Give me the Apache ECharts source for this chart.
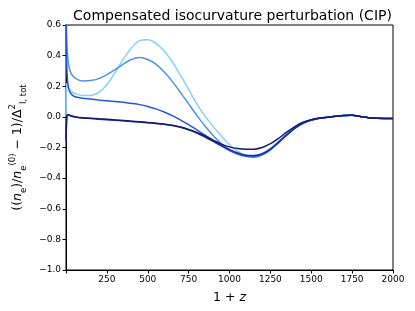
<!DOCTYPE html>
<html>
<head>
<meta charset="utf-8">
<script src="https://cdn.jsdelivr.net/npm/echarts@6/dist/echarts.min.js"></script>
<style>html,body{margin:0;padding:0;background:#fff}#c{width:415px;height:311px}</style>
</head>
<body>
<div id="c"></div>
<script>
const xs = [1, 3, 6, 10, 15, 25, 40, 60, 100, 150, 200, 250, 300, 350, 400, 450, 500, 550, 600, 650, 700, 750, 800, 850, 900, 950, 1000, 1050, 1100, 1150, 1200, 1250, 1300, 1350, 1400, 1450, 1500, 1550, 1600, 1650, 1700, 1750, 1800, 1850, 1900, 1950, 2000];
const lightVals = [0.0, 0.22, 0.21, 0.2, 0.19, 0.175, 0.16, 0.15, 0.14, 0.14, 0.16, 0.21, 0.29, 0.375, 0.45, 0.498, 0.503, 0.48, 0.43, 0.36, 0.272, 0.18, 0.085, 0.005, -0.062, -0.125, -0.182, -0.226, -0.25, -0.255, -0.24, -0.205, -0.16, -0.11, -0.068, -0.038, -0.02, -0.009, -0.002, 0.004, 0.009, 0.011, 0.003, -0.005, -0.009, -0.01, -0.01];
const mediumVals = [0.65, 0.55, 0.46, 0.4, 0.35, 0.30, 0.27, 0.25, 0.235, 0.237, 0.25, 0.276, 0.308, 0.345, 0.375, 0.387, 0.375, 0.345, 0.295, 0.232, 0.16, 0.085, 0.01, -0.06, -0.122, -0.175, -0.213, -0.24, -0.255, -0.26, -0.245, -0.21, -0.165, -0.115, -0.072, -0.04, -0.021, -0.009, -0.002, 0.004, 0.009, 0.011, 0.003, -0.005, -0.009, -0.01, -0.01];
const royalVals = [0.65, 0.42, 0.3, 0.23, 0.19, 0.16, 0.14, 0.13, 0.122, 0.116, 0.11, 0.105, 0.1, 0.095, 0.088, 0.08, 0.068, 0.052, 0.032, 0.008, -0.02, -0.05, -0.085, -0.12, -0.155, -0.19, -0.22, -0.243, -0.258, -0.262, -0.248, -0.215, -0.17, -0.12, -0.075, -0.042, -0.022, -0.009, -0.002, 0.004, 0.009, 0.011, 0.003, -0.005, -0.009, -0.01, -0.01];
const darkVals = [-0.16, -0.04, 0.005, 0.012, 0.013, 0.008, 0.002, -0.002, -0.007, -0.011, -0.015, -0.018, -0.022, -0.026, -0.03, -0.034, -0.038, -0.043, -0.049, -0.057, -0.068, -0.085, -0.106, -0.132, -0.16, -0.188, -0.214, -0.236, -0.25, -0.252, -0.24, -0.21, -0.165, -0.118, -0.074, -0.041, -0.021, -0.009, -0.002, 0.004, 0.009, 0.011, 0.003, -0.005, -0.009, -0.01, -0.01];
const darkestVals = [-0.15, -0.03, 0.008, 0.014, 0.015, 0.01, 0.004, 0.0, -0.005, -0.009, -0.013, -0.016, -0.02, -0.024, -0.028, -0.032, -0.036, -0.041, -0.047, -0.055, -0.066, -0.082, -0.102, -0.125, -0.152, -0.178, -0.196, -0.207, -0.212, -0.211, -0.2, -0.175, -0.14, -0.1, -0.063, -0.035, -0.018, -0.008, -0.002, 0.004, 0.009, 0.011, 0.003, -0.005, -0.009, -0.01, -0.01];
const xTicks = [250, 500, 750, 1000, 1250, 1500, 1750, 2000];
const yTicks = [-1.0, -0.8, -0.6, -0.4, -0.2, 0.0, 0.2, 0.4, 0.6];

const colors = ['#87cefa', '#4d93ea', '#2555dc', '#1e2fa5', '#151b6c'];
const seriesVals = [lightVals, mediumVals, royalVals, darkVals, darkestVals];
const font = 'DejaVu Sans';

const chart = echarts.init(document.getElementById('c'), null, {renderer: 'canvas'});
const fmtY = v => {
  const r = Math.round(v * 10) / 10;
  if (!yTicks.some(t => Math.abs(t - r) < 1e-9)) return '';
  return (Math.abs(r) < 1e-9 ? 0 : r).toFixed(1).replace('-', '\u2212');
};
chart.setOption({
  animation: false,
  backgroundColor: '#fff',
  title: {
    text: 'Compensated isocurvature perturbation (CIP)',
    left: 227.5, top: 4, textAlign: 'center',
    textStyle: {fontFamily: font, fontSize: 14, fontWeight: 'normal', color: '#000'}
  },
  grid: {left: 62, right: 22, top: 25, bottom: 41, show: true, borderColor: '#000', borderWidth: 1, backgroundColor: 'transparent'},
  xAxis: {
    type: 'value', min: 0, max: 2000, interval: 250,
    name: '{n|1 + }{i|z}', nameLocation: 'middle', nameGap: 21,
    nameTextStyle: {rich: {n: {fontFamily: font, fontSize: 12.5, color: '#000'}, i: {fontFamily: font, fontSize: 12.5, fontStyle: 'italic', color: '#000'}}},
    axisLine: {show: true, onZero: false, lineStyle: {color: '#000', width: 1}},
    axisTick: {show: true, inside: false, length: 3.5, lineStyle: {color: '#000'}},
    axisLabel: {fontFamily: font, fontSize: 9, color: '#000', margin: 5,
      formatter: v => xTicks.includes(v) ? String(v) : ''},
    splitLine: {show: false}
  },
  yAxis: {
    type: 'value', min: -1.0, max: 0.6, interval: 0.2,
    name: '{t|((}{i|n}{s|e}{t|)/}{i|n}{s|e}{p|(0)}{t| \u2212 1)/\u0394}{p|2}{s|I, tot}',
    nameLocation: 'middle', nameGap: 38, nameRotate: 90,
    nameTextStyle: {rich: {
      t: {fontFamily: font, fontSize: 12.5, color: '#000', lineHeight: 20},
      i: {fontFamily: font, fontSize: 12.5, fontStyle: 'italic', color: '#000', lineHeight: 20},
      s: {fontFamily: font, fontSize: 8.5, color: '#000', verticalAlign: 'bottom', lineHeight: 20},
      p: {fontFamily: font, fontSize: 8.5, color: '#000', verticalAlign: 'top', lineHeight: 20}
    }},
    axisLine: {show: true, onZero: false, lineStyle: {color: '#000', width: 1}},
    axisTick: {show: true, inside: false, length: 3.5, lineStyle: {color: '#000'}},
    axisLabel: {fontFamily: font, fontSize: 9, color: '#000', margin: 5, formatter: fmtY},
    splitLine: {show: false}
  },
  series: seriesVals.map((vals, k) => ({
    type: 'line',
    data: xs.map((x, i) => [x, vals[i]]),
    showSymbol: false, symbol: 'none',
    smooth: 0.3,
    clip: true,
    lineStyle: {color: colors[k], width: 1.5},
    z: 2 + k
  }))
});
</script>
</body>
</html>
